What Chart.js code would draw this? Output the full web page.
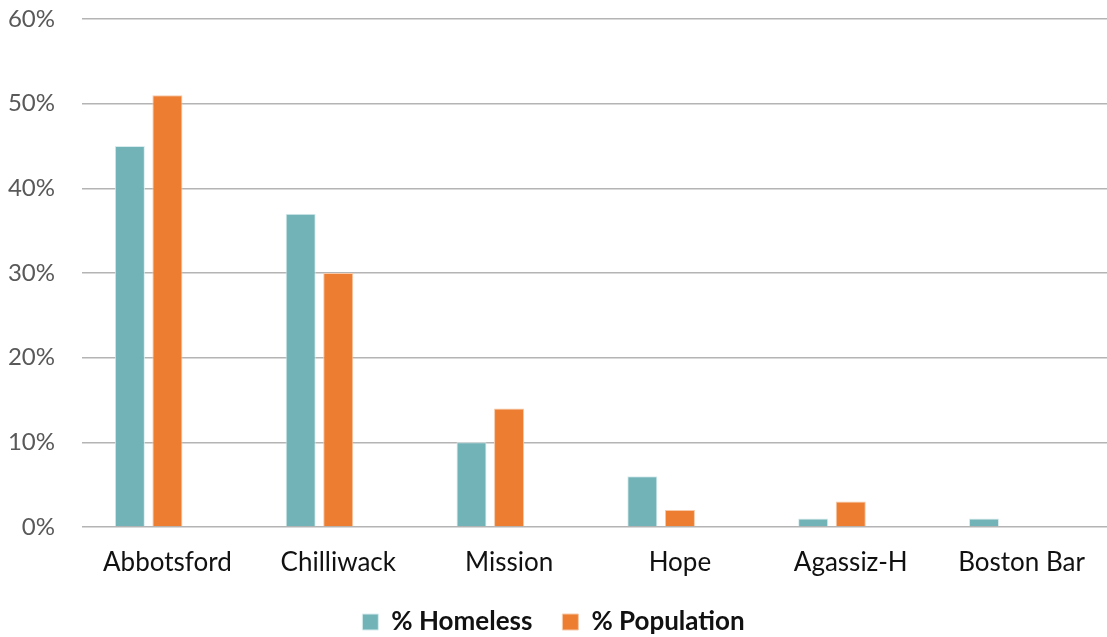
<!DOCTYPE html>
<html>
<head>
<meta charset="utf-8">
<script src="https://cdn.jsdelivr.net/npm/chart.js@4/dist/chart.umd.min.js"></script>
<style>
  html, body { margin: 0; padding: 0; background: #fff; }
  #wrap { width: 1107px; height: 637px; }
</style>
</head>
<body>
<div id="wrap"><canvas id="homelessChart"></canvas></div>
<script>
const communities = ["Abbotsford", "Chilliwack", "Mission", "Hope", "Agassiz-H", "Boston Bar"];
const pctHomeless = [45, 37, 10, 6, 1, 1];
const pctPopulation = [51, 30, 14, 2, 3, 0];
const yTicks = [0, 10, 20, 30, 40, 50, 60];

Chart.defaults.font.family = "Lato, 'Open Sans', sans-serif";

const ctx = document.getElementById("homelessChart").getContext("2d");
new Chart(ctx, {
    type: "bar",
    data: {
        labels: communities,
        datasets: [{
            label: "% Homeless",
            data: pctHomeless,
            backgroundColor: "#72b3b8",
            borderColor: "#d8ecee",
            borderWidth: 1
        }, {
            label: "% Population",
            data: pctPopulation,
            backgroundColor: "#ed7d31",
            borderColor: "#f7c9a8",
            borderWidth: 1
        }, {
            // empty third slot, keeps the pair left of the label like the original
            label: "",
            data: communities.map(() => null),
            backgroundColor: "rgba(0,0,0,0)"
        }]
    },
    options: {
        responsive: true,
        maintainAspectRatio: false,
        animation: false,
        layout: { padding: { top: 19, right: 0, bottom: -8 } },
        datasets: {
            bar: { categoryPercentage: 0.66, barPercentage: 0.8 }
        },
        scales: {
            x: {
                afterFit: s => { s.height = 52; },
                grid: { display: false, drawTicks: false },
                border: { display: false },
                ticks: { color: "#111", font: { size: 26 }, padding: 20 }
            },
            y: {
                min: 0,
                max: 60,
                afterBuildTicks: s => { s.ticks = yTicks.map(v => ({ value: v })); },
                afterFit: s => { s.width = 82; s.paddingTop = 0; },
                grid: { color: "#b4b4b4", lineWidth: 1.5, drawTicks: false },
                border: { display: false },
                ticks: {
                    color: "#595959",
                    font: { size: 24 },
                    padding: 27,
                    callback: v => v + "%"
                }
            }
        },
        plugins: {
            legend: {
                position: "bottom",
                labels: {
                    color: "#111",
                    font: { size: 26, weight: "bold" },
                    boxWidth: 16,
                    boxHeight: 16,
                    padding: 30,
                    filter: item => item.text !== ""
                }
            },
            tooltip: { enabled: false }
        }
    }
});
</script>
</body>
</html>
